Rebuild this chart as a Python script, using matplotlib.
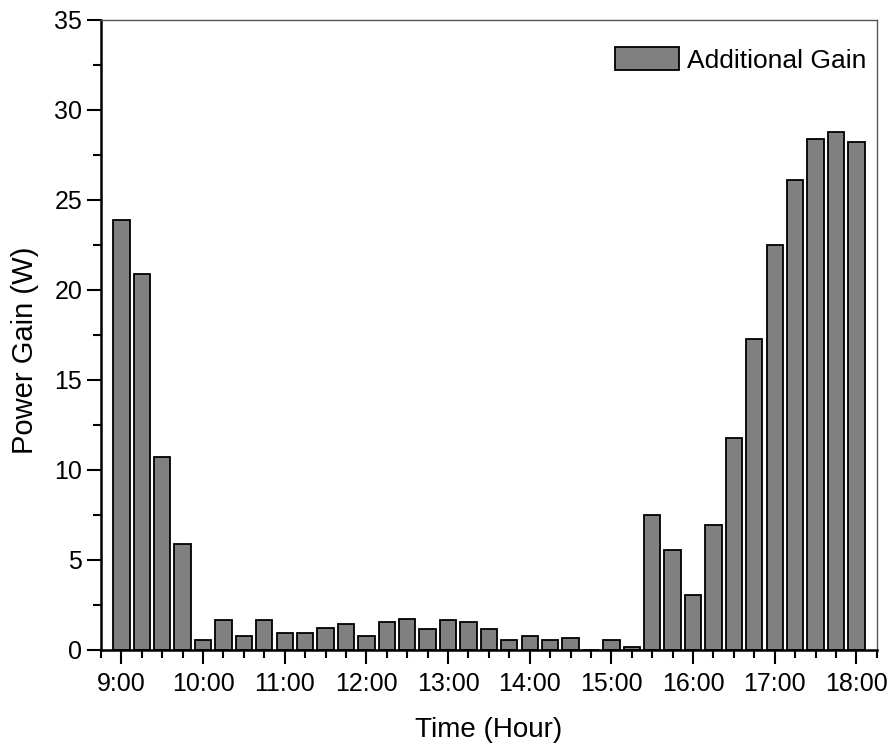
# Additional power gain per 15-minute interval, 9:00 - 18:00
import numpy as np
import matplotlib
matplotlib.use("Agg")
import matplotlib.pyplot as plt
from matplotlib.ticker import MultipleLocator

plt.rcParams["font.family"] = ["Liberation Sans", "DejaVu Sans"]

# -----------------------------
# Data
# -----------------------------
# one bar every 15 minutes, index 0 = 9:00
slot_index = np.arange(37)
gain_w = [23.9, 20.9, 10.7, 5.9, 0.57, 1.64, 0.76, 1.64, 0.94, 0.94,
          1.24, 1.42, 0.76, 1.55, 1.74, 1.14, 1.64, 1.58, 1.14, 0.57,
          0.76, 0.57, 0.64, 0.0, 0.57, 0.15, 7.5, 5.55, 3.03, 6.96,
          11.8, 17.3, 22.5, 26.1, 28.4, 28.8, 28.2]
hour_labels = ["9:00", "10:00", "11:00", "12:00", "13:00",
               "14:00", "15:00", "16:00", "17:00", "18:00"]

# -----------------------------
# Plot
# -----------------------------
fig = plt.figure(figsize=(8.92, 7.54), dpi=100)
ax = fig.add_axes([0.1132, 0.138, 0.8698, 0.8355])

ax.bar(slot_index, gain_w, width=0.8, color="#808080",
       edgecolor="black", linewidth=1.3, label="Additional Gain")

ax.set_xlim(-1, 37)
ax.set_ylim(0, 35)

ax.set_xticks(np.arange(0, 37, 4))
ax.set_xticklabels(hour_labels)
ax.xaxis.set_minor_locator(MultipleLocator(1))
ax.yaxis.set_major_locator(MultipleLocator(5))
ax.yaxis.set_minor_locator(MultipleLocator(2.5))

ax.tick_params(axis="both", which="major", direction="out",
               length=10, width=1.5, labelsize=18)
ax.tick_params(axis="both", which="minor", direction="out",
               length=5.5, width=1.5)
ax.tick_params(axis="x", which="major", pad=6)
ax.tick_params(axis="y", which="major", pad=3.5)

for side in ["left", "bottom"]:
    ax.spines[side].set_linewidth(1.8)
for side in ["top", "right"]:
    ax.spines[side].set_linewidth(1.0)
    ax.spines[side].set_color("#555555")

ax.set_xlabel("Time (Hour)", fontsize=20, labelpad=15)
ax.set_ylabel("Power Gain (W)", fontsize=21)
ax.yaxis.set_label_coords(-0.080, 0.475)

ax.legend(loc="upper right", bbox_to_anchor=(0.986, 0.957),
          frameon=False, fontsize=19, borderaxespad=0, borderpad=0,
          handlelength=2.4, handleheight=0.95, handletextpad=0.3)

plt.savefig("out.png", dpi=100)
